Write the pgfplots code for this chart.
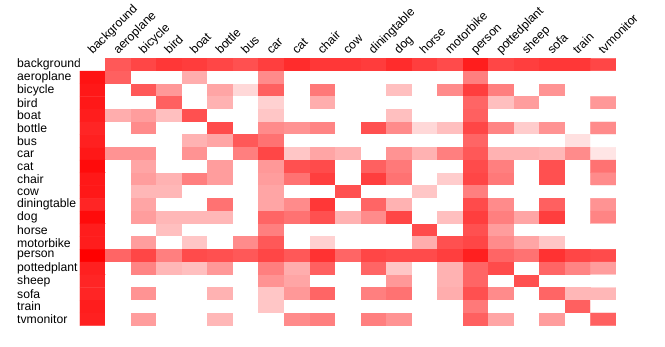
\documentclass[border=0pt]{standalone}
\usepackage{fontspec}
\setmainfont{Liberation Sans}
\usepackage{pgfplots}
\pgfplotsset{compat=1.18}
\begin{document}
\fontsize{12.2}{14}\selectfont
\begin{tikzpicture}
\path[use as bounding box] (0,0) rectangle (665pt,346pt);
\begin{axis}[
  at={(80pt,20.3pt)}, anchor=south west,
  scale only axis, width=536pt, height=267.4pt,
  xmin=-0.5, xmax=20.5, ymin=-0.5, ymax=20.5,
  axis line style={draw=none},
  major tick length=0pt,
  xtick={0,...,20}, ytick={0,...,20},
  xticklabels={background,aeroplane,bicycle,bird,boat,bottle,bus,car,cat,chair,cow,diningtable,dog,horse,motorbike,person,pottedplant,sheep,sofa,train,tvmonitor},
  yticklabels={tvmonitor,train,sofa,sheep,pottedplant,person,motorbike,horse,dog,diningtable,cow,chair,cat,car,bus,bottle,boat,bird,bicycle,aeroplane,background},
  xticklabel pos=upper,
  tick label style={font=\fontsize{12.2}{14}\selectfont},
  x tick label style={yshift=3.5pt, rotate=45, anchor=base west, inner sep=0pt},
  y tick label style={anchor=west, inner sep=0pt, xshift=-63pt},
  colormap={wr}{rgb255=(255,255,255) rgb255=(255,0,0)},
  point meta min=0, point meta max=1,
]
\addplot[matrix plot*, mesh/cols=21, point meta=explicit] table[meta=c, row sep=\\] {
x y c\\
0 20 0\\ 1 20 .65\\ 2 20 .72\\ 3 20 .78\\ 4 20 .76\\ 5 20 .72\\ 6 20 .68\\ 7 20 .75\\ 8 20 .82\\ 9 20 .78\\ 10 20 .78\\ 11 20 .76\\ 12 20 .82\\ 13 20 .75\\ 14 20 .7\\ 15 20 .88\\ 16 20 .72\\ 17 20 .75\\ 18 20 .78\\ 19 20 .78\\ 20 20 .72\\
0 19 .92\\ 1 19 .62\\ 2 19 0\\ 3 19 0\\ 4 19 .32\\ 5 19 0\\ 6 19 0\\ 7 19 .45\\ 8 19 0\\ 9 19 0\\ 10 19 0\\ 11 19 0\\ 12 19 0\\ 13 19 0\\ 14 19 0\\ 15 19 .5\\ 16 19 0\\ 17 19 0\\ 18 19 0\\ 19 19 0\\ 20 19 0\\
0 18 .9\\ 1 18 0\\ 2 18 .65\\ 3 18 .4\\ 4 18 0\\ 5 18 .35\\ 6 18 .15\\ 7 18 .62\\ 8 18 0\\ 9 18 .52\\ 10 18 0\\ 11 18 0\\ 12 18 .25\\ 13 18 0\\ 14 18 .45\\ 15 18 .75\\ 16 18 .5\\ 17 18 0\\ 18 18 .42\\ 19 18 0\\ 20 18 0\\
0 17 .9\\ 1 17 0\\ 2 17 0\\ 3 17 .62\\ 4 17 0\\ 5 17 .3\\ 6 17 0\\ 7 17 .18\\ 8 17 0\\ 9 17 .32\\ 10 17 0\\ 11 17 0\\ 12 17 0\\ 13 17 0\\ 14 17 0\\ 15 17 .6\\ 16 17 .25\\ 17 17 .38\\ 18 17 0\\ 19 17 0\\ 20 17 .4\\
0 16 .88\\ 1 16 .32\\ 2 16 .38\\ 3 16 .25\\ 4 16 .68\\ 5 16 0\\ 6 16 0\\ 7 16 .22\\ 8 16 0\\ 9 16 0\\ 10 16 0\\ 11 16 0\\ 12 16 .25\\ 13 16 0\\ 14 16 0\\ 15 16 .62\\ 16 16 0\\ 17 16 0\\ 18 16 0\\ 19 16 0\\ 20 16 0\\
0 15 .85\\ 1 15 0\\ 2 15 .45\\ 3 15 0\\ 4 15 0\\ 5 15 .7\\ 6 15 0\\ 7 15 .45\\ 8 15 .42\\ 9 15 .48\\ 10 15 0\\ 11 15 .68\\ 12 15 .45\\ 13 15 .15\\ 14 15 .25\\ 15 15 .72\\ 16 15 .48\\ 17 15 .2\\ 18 15 .42\\ 19 15 0\\ 20 15 .45\\
0 14 .87\\ 1 14 0\\ 2 14 0\\ 3 14 0\\ 4 14 .3\\ 5 14 .35\\ 6 14 .65\\ 7 14 .55\\ 8 14 0\\ 9 14 0\\ 10 14 0\\ 11 14 0\\ 12 14 0\\ 13 14 0\\ 14 14 0\\ 15 14 .6\\ 16 14 0\\ 17 14 0\\ 18 14 0\\ 19 14 .12\\ 20 14 0\\
0 13 .9\\ 1 13 .42\\ 2 13 .42\\ 3 13 0\\ 4 13 .42\\ 5 13 0\\ 6 13 .5\\ 7 13 .72\\ 8 13 .22\\ 9 13 .35\\ 10 13 .3\\ 11 13 0\\ 12 13 .42\\ 13 13 .3\\ 14 13 .5\\ 15 13 .65\\ 16 13 .3\\ 17 13 .3\\ 18 13 .28\\ 19 13 .45\\ 20 13 .1\\
0 12 .95\\ 1 12 0\\ 2 12 .35\\ 3 12 0\\ 4 12 0\\ 5 12 .38\\ 6 12 0\\ 7 12 .4\\ 8 12 .68\\ 9 12 .7\\ 10 12 0\\ 11 12 .62\\ 12 12 .52\\ 13 12 0\\ 14 12 0\\ 15 12 .7\\ 16 12 .5\\ 17 12 0\\ 18 12 .68\\ 19 12 0\\ 20 12 .55\\
0 11 .9\\ 1 11 0\\ 2 11 .38\\ 3 11 .3\\ 4 11 .5\\ 5 11 .38\\ 6 11 0\\ 7 11 .38\\ 8 11 .55\\ 9 11 .75\\ 10 11 0\\ 11 11 .75\\ 12 11 .55\\ 13 11 0\\ 14 11 .2\\ 15 11 .72\\ 16 11 .52\\ 17 11 0\\ 18 11 .68\\ 19 11 0\\ 20 11 .45\\
0 10 .9\\ 1 10 0\\ 2 10 .28\\ 3 10 .28\\ 4 10 0\\ 5 10 0\\ 6 10 0\\ 7 10 .35\\ 8 10 0\\ 9 10 0\\ 10 10 .68\\ 11 10 0\\ 12 10 0\\ 13 10 .22\\ 14 10 0\\ 15 10 .5\\ 16 10 0\\ 17 10 0\\ 18 10 0\\ 19 10 0\\ 20 10 0\\
0 9 .85\\ 1 9 0\\ 2 9 .35\\ 3 9 0\\ 4 9 0\\ 5 9 .55\\ 6 9 0\\ 7 9 .35\\ 8 9 .45\\ 9 9 .78\\ 10 9 0\\ 11 9 .6\\ 12 9 .3\\ 13 9 0\\ 14 9 0\\ 15 9 .7\\ 16 9 .45\\ 17 9 0\\ 18 9 .62\\ 19 9 0\\ 20 9 .42\\
0 8 .95\\ 1 8 0\\ 2 8 .38\\ 3 8 .28\\ 4 8 .28\\ 5 8 .28\\ 6 8 0\\ 7 8 .6\\ 8 8 .55\\ 9 8 .68\\ 10 8 .3\\ 11 8 .45\\ 12 8 .72\\ 13 8 0\\ 14 8 .25\\ 15 8 .75\\ 16 8 .5\\ 17 8 .35\\ 18 8 .75\\ 19 8 0\\ 20 8 .48\\
0 7 .88\\ 1 7 0\\ 2 7 0\\ 3 7 .25\\ 4 7 0\\ 5 7 0\\ 6 7 0\\ 7 7 .5\\ 8 7 0\\ 9 7 0\\ 10 7 0\\ 11 7 0\\ 12 7 0\\ 13 7 .7\\ 14 7 0\\ 15 7 .68\\ 16 7 .38\\ 17 7 0\\ 18 7 0\\ 19 7 0\\ 20 7 0\\
0 6 .88\\ 1 6 0\\ 2 6 .38\\ 3 6 0\\ 4 6 .22\\ 5 6 0\\ 6 6 .45\\ 7 6 .65\\ 8 6 0\\ 9 6 .18\\ 10 6 0\\ 11 6 0\\ 12 6 0\\ 13 6 .32\\ 14 6 .68\\ 15 6 .72\\ 16 6 .45\\ 17 6 .35\\ 18 6 .22\\ 19 6 0\\ 20 6 0\\
0 5 1\\ 1 5 .6\\ 2 5 .72\\ 3 5 .5\\ 4 5 .7\\ 5 5 .68\\ 6 5 .65\\ 7 5 .72\\ 8 5 .65\\ 9 5 .8\\ 10 5 .6\\ 11 5 .72\\ 12 5 .7\\ 13 5 .7\\ 14 5 .75\\ 15 5 .87\\ 16 5 .6\\ 17 5 .55\\ 18 5 .8\\ 19 5 .72\\ 20 5 .7\\
0 4 .87\\ 1 4 0\\ 2 4 .48\\ 3 4 .28\\ 4 4 .25\\ 5 4 .4\\ 6 4 0\\ 7 4 .5\\ 8 4 .32\\ 9 4 .62\\ 10 4 0\\ 11 4 .6\\ 12 4 .22\\ 13 4 0\\ 14 4 .3\\ 15 4 .6\\ 16 4 .7\\ 17 4 0\\ 18 4 .6\\ 19 4 .48\\ 20 4 .38\\
0 3 .85\\ 1 3 0\\ 2 3 0\\ 3 3 0\\ 4 3 0\\ 5 3 0\\ 6 3 0\\ 7 3 .42\\ 8 3 .35\\ 9 3 0\\ 10 3 0\\ 11 3 0\\ 12 3 .4\\ 13 3 0\\ 14 3 .3\\ 15 3 .6\\ 16 3 0\\ 17 3 .68\\ 18 3 0\\ 19 3 0\\ 20 3 0\\
0 2 .85\\ 1 2 0\\ 2 2 .42\\ 3 2 0\\ 4 2 0\\ 5 2 .3\\ 6 2 0\\ 7 2 .22\\ 8 2 .4\\ 9 2 .6\\ 10 2 0\\ 11 2 .5\\ 12 2 .55\\ 13 2 0\\ 14 2 .32\\ 15 2 .68\\ 16 2 .45\\ 17 2 0\\ 18 2 .6\\ 19 2 .28\\ 20 2 .28\\
0 1 .88\\ 1 1 0\\ 2 1 0\\ 3 1 0\\ 4 1 0\\ 5 1 0\\ 6 1 0\\ 7 1 .22\\ 8 1 0\\ 9 1 0\\ 10 1 0\\ 11 1 0\\ 12 1 0\\ 13 1 0\\ 14 1 0\\ 15 1 .52\\ 16 1 0\\ 17 1 0\\ 18 1 0\\ 19 1 .62\\ 20 1 0\\
0 0 .87\\ 1 0 0\\ 2 0 .38\\ 3 0 0\\ 4 0 0\\ 5 0 .28\\ 6 0 0\\ 7 0 0\\ 8 0 .45\\ 9 0 .5\\ 10 0 0\\ 11 0 .5\\ 12 0 .42\\ 13 0 0\\ 14 0 0\\ 15 0 .62\\ 16 0 .35\\ 17 0 0\\ 18 0 .38\\ 19 0 0\\ 20 0 .62\\
};
\end{axis}
\end{tikzpicture}
\end{document}
